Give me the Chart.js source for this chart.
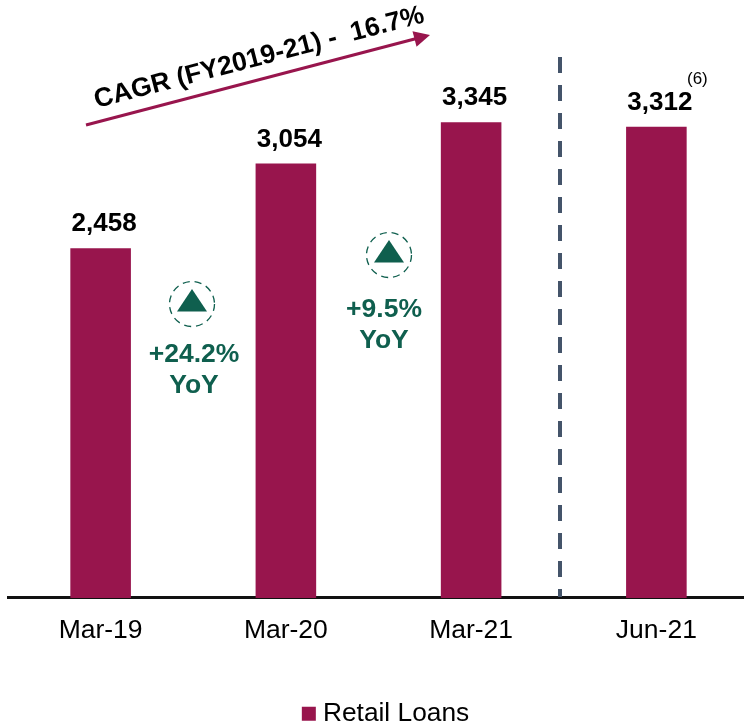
<!DOCTYPE html>
<html>
<head>
<meta charset="utf-8">
<script src="https://cdn.jsdelivr.net/npm/chart.js@4"></script>
<style>
html,body{margin:0;padding:0;background:#fff;overflow:hidden;width:744px;height:725px}
#wrap{position:absolute;left:0;top:0;width:749px;height:725px}
canvas{display:block}
</style>
</head>
<body>
<div id="wrap"><canvas id="c" width="749" height="725"></canvas></div>
<script>
const categories = ["Mar-19", "Mar-20", "Mar-21", "Jun-21"];
const retailLoans = [2458, 3054, 3345, 3312];
const valueLabels = ["2,458", "3,054", "3,345", "3,312"];
const seriesName = "Retail Loans";
const cagrLabel = "CAGR (FY2019-21) -  16.7%";
const yoyLabels = ["+24.2%", "+9.5%"];

const FONT = '"Liberation Sans", Arial, sans-serif';
const WINE = "#98154D", GREEN = "#0F5F4E", SLATE = "#44546A";

const overlay = {
  id: "overlay",
  afterLayout(chart) {
    const l = chart.legend;
    l.left += 10; l.right += 10;
    l.top += 37; l.bottom += 37;
  },
  afterDatasetsDraw(chart) {
    const ctx = chart.ctx, meta = chart.getDatasetMeta(0);
    const bottom = chart.chartArea.bottom;
    ctx.save();
    // value labels
    ctx.fillStyle = "#000";
    ctx.font = "bold 26px " + FONT;
    ctx.textAlign = "center";
    ctx.textBaseline = "alphabetic";
    meta.data.forEach((bar, i) => ctx.fillText(valueLabels[i], bar.x + 3.5, bar.y - 17));
    // footnote marker
    ctx.font = "17px " + FONT;
    const last = meta.data[3];
    ctx.fillText("(6)", last.x + 41, last.y - 43);

    // divider
    ctx.strokeStyle = SLATE; ctx.lineWidth = 4;
    ctx.setLineDash([16, 12]);
    ctx.beginPath(); ctx.moveTo(560, 57); ctx.lineTo(560, bottom - 1); ctx.stroke();
    ctx.setLineDash([]);

    // CAGR arrow
    const ax0 = 86, ay0 = 125, ax1 = 430, ay1 = 35;
    const ang = Math.atan2(ay1 - ay0, ax1 - ax0);
    ctx.strokeStyle = WINE; ctx.fillStyle = WINE; ctx.lineWidth = 3;
    ctx.beginPath(); ctx.moveTo(ax0, ay0);
    ctx.lineTo(ax1 - 12 * Math.cos(ang), ay1 - 12 * Math.sin(ang)); ctx.stroke();
    ctx.save(); ctx.translate(ax1, ay1); ctx.rotate(ang);
    ctx.beginPath(); ctx.moveTo(0, 0); ctx.lineTo(-16, -8); ctx.lineTo(-16, 8); ctx.closePath(); ctx.fill();
    ctx.restore();
    ctx.save(); ctx.translate(261, 65); ctx.rotate(ang);
    ctx.fillStyle = "#000"; ctx.font = "bold 26.5px " + FONT; ctx.textAlign = "center";
    ctx.fillText(cagrLabel, 0, 0);
    ctx.restore();

    // YoY badges
    [[192, 304, 194, 0, 362, 393], [389, 255, 384, 1, 317, 348]].forEach(([cx, cy, tx, k, t1, t2]) => {
      ctx.strokeStyle = GREEN; ctx.lineWidth = 1.3;
      ctx.setLineDash([7, 5]);
      ctx.beginPath(); ctx.arc(cx, cy, 22.5, 0, Math.PI * 2); ctx.stroke();
      ctx.setLineDash([]);
      ctx.fillStyle = GREEN;
      ctx.beginPath(); ctx.moveTo(cx, cy - 15); ctx.lineTo(cx + 15, cy + 7.5); ctx.lineTo(cx - 15, cy + 7.5); ctx.closePath(); ctx.fill();
      ctx.font = "bold 26.5px " + FONT; ctx.textAlign = "center";
      ctx.fillText(yoyLabels[k], tx, t1);
      ctx.fillText("YoY", tx, t2);
    });
    ctx.restore();
  }
};

new Chart(document.getElementById("c"), {
  type: "bar",
  data: { labels: categories, datasets: [{ label: seriesName, data: retailLoans, backgroundColor: WINE, borderWidth: 0, categoryPercentage: 1, barPercentage: 0.327 }] },
  options: {
    responsive: false, animation: false,
    layout: { padding: { left: 8, right: 0, top: 29, bottom: 25 } },
    plugins: {
      tooltip: { enabled: false },
      legend: { position: "bottom", labels: { usePointStyle: true, pointStyle: "rect", boxWidth: 2, boxHeight: 14, color: "#000", padding: 0, font: { family: FONT, size: 26.3 } } }
    },
    scales: {
      x: { grid: { display: false, drawTicks: false }, border: { color: "#111", width: 3 }, ticks: { color: "#000", padding: 17, maxRotation: 0, font: { family: FONT, size: 26.5 } } },
      y: { display: false, min: 0, max: 4000, beginAtZero: true }
    }
  },
  plugins: [overlay]
});
</script>
</body>
</html>
